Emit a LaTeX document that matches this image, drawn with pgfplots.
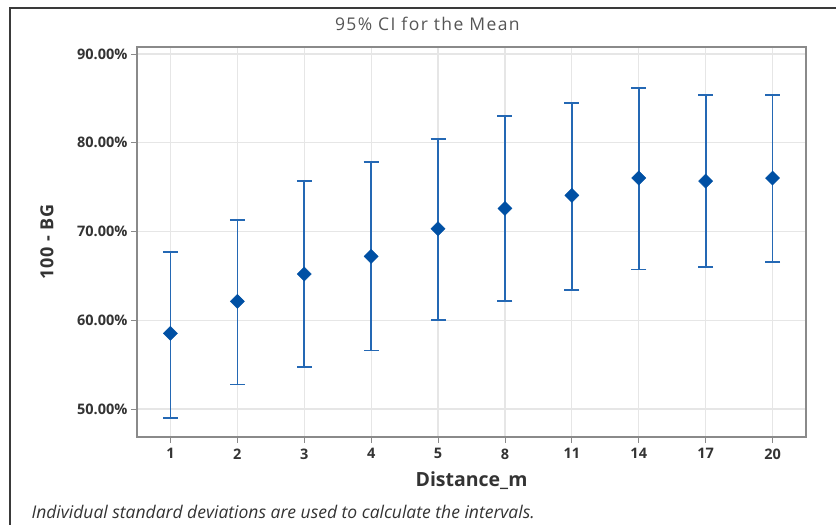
\documentclass[border=0pt]{standalone}
\usepackage{fontspec}
\setmainfont{Open Sans}
\newfontfamily\titlefont[LetterSpace=8]{Open Sans}
\newfontfamily\labelfont[LetterSpace=4]{Open Sans}
\usepackage{pgfplots}
\usepackage{pgfplotstable}
\pgfplotsset{compat=1.18}

\definecolor{ptblue}{HTML}{0050A4}
\definecolor{barblue}{HTML}{2468B4}
\definecolor{gridgray}{HTML}{E6E6E6}
\definecolor{axisgray}{HTML}{8A8A8A}
\definecolor{txt}{HTML}{333333}
\definecolor{titlegray}{HTML}{555555}
\definecolor{framegray}{HTML}{3A3A3A}

% mean and 95% confidence limits of 100 - BG per distance
\pgfplotstableread{
idx dist mean lo hi
0 1  58.53 49.02 67.69
1 2  62.13 52.78 71.30
2 3  65.21 54.77 75.69
3 4  67.20 56.61 77.83
4 5  70.32 60.00 80.46
5 8  72.61 62.17 83.05
6 11 74.08 63.45 84.52
7 14 76.03 65.74 86.17
8 17 75.69 66.04 85.38
9 20 76.03 66.56 85.38
}\cidata

\begin{document}
\begin{tikzpicture}[x=1pt,y=1pt]
\begin{axis}[
  scale only axis, width=669pt, height=390pt,
  xmin=-0.5, xmax=9.5, ymin=46.85, ymax=90.8,
  xtick={0,...,9}, xticklabels={1,2,3,4,5,8,11,14,17,20},
  ytick={50,60,70,80,90},
  yticklabels={50.00\%,60.00\%,70.00\%,80.00\%,90.00\%},
  xtick pos=left, ytick pos=left,
  tick align=outside, major tick length=6pt,
  tick style={axisgray, line width=0.8pt},
  axis line style={axisgray, line width=1.2pt},
  xmajorgrids, ymajorgrids,
  grid style={gridgray, line width=1.2pt},
  ticklabel style={font=\fontsize{14.5}{16}\selectfont\bfseries, text=txt},
  xticklabel style={yshift=-2pt},
  title={\titlefont 95\% CI for the Mean},
  title style={at={(axis description cs:0.434,1.043)}, anchor=center,
    font=\fontsize{17.5}{19}\selectfont, text=titlegray},
  xlabel={Distance\_m},
  xlabel style={at={(axis description cs:0.5,-0.113)}, anchor=center,
    font=\fontsize{19.5}{21}\selectfont\bfseries, text=txt},
  ylabel={\labelfont\bfseries 100 - BG},
  ylabel style={at={(axis description cs:-0.1345,0.5)}, anchor=center,
    font=\fontsize{18}{20}\selectfont, text=txt},
]
\addplot[only marks, color=ptblue,
  mark=square*, mark size=5pt,
  mark options={rotate=45, fill=ptblue, draw=ptblue},
  error bars/.cd, y dir=both, y explicit,
  error bar style={barblue, line width=1.7pt},
  error mark options={barblue, line width=1.7pt, mark size=7.5pt, rotate=90}]
  table[x=idx, y=mean,
        y error plus expr=\thisrow{hi}-\thisrow{mean},
        y error minus expr=\thisrow{mean}-\thisrow{lo}] {\cidata};
\coordinate (O) at (rel axis cs:0,0);
\end{axis}
% page frame and note, placed from the lower left corner of the plot box
\begin{scope}[shift={(O)}]
\path[use as bounding box] (-137,-88) rectangle (699,437);
\draw[framegray, line width=2pt] (-127,-88) -- (-127,429) -- (699,429);
\node[anchor=west, font=\fontsize{17.5}{19}\selectfont\itshape, text=txt]
  at (-109,-75) {Individual standard deviations are used to calculate the intervals.};
\end{scope}
\end{tikzpicture}
\end{document}
